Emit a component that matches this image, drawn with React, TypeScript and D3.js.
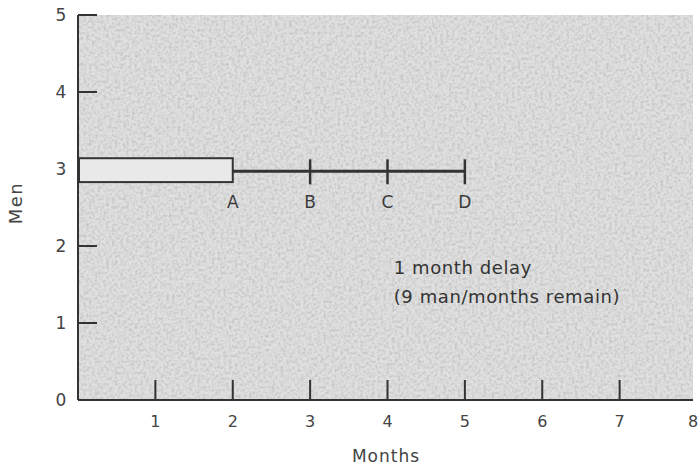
import { useEffect, useRef } from 'react';
import * as d3 from 'd3';

// values
const xTicks = [1, 2, 3, 4, 5, 6, 7, 8];
const yTicks = [0, 1, 2, 3, 4, 5];
const doneBar = { from: 0, to: 2, low: 2.83, high: 3.14 };
const milestones = ['A', 'B', 'C', 'D'];
const milestoneMonths = [2, 3, 4, 5];
const delayLevel = 2.97;
const noteLines = ['1 month delay', '(9 man/months remain)'];

export default function App() {
  const svgRef = useRef<SVGSVGElement>(null);

  useEffect(() => {
    if (!svgRef.current) return;
    const svg = d3.select(svgRef.current);
    svg.selectAll('*').remove();

    const width = 700;
    const height = 465;
    const margin = { top: 15, right: 5, bottom: 65, left: 78 };
    const w = width - margin.left - margin.right;
    const h = height - margin.top - margin.bottom;
    const ink = '#333';
    const font = "'DejaVu Sans', sans-serif";

    // grainy print texture
    const defs = svg.append('defs');
    const f = defs.append('filter').attr('id', 'grain').attr('x', 0).attr('y', 0).attr('width', 1).attr('height', 1);
    f.append('feTurbulence')
      .attr('type', 'fractalNoise')
      .attr('baseFrequency', 0.35)
      .attr('numOctaves', 2)
      .attr('seed', 4)
      .attr('result', 'noise');
    f.append('feColorMatrix')
      .attr('in', 'noise')
      .attr('type', 'matrix')
      .attr('values', '0 0 0 0 0.5  0 0 0 0 0.5  0 0 0 0 0.5  -1.8 0 0 0 1.1')
      .attr('result', 'specks');
    f.append('feComposite').attr('in', 'specks').attr('in2', 'SourceGraphic').attr('operator', 'in').attr('result', 'sp');
    f.append('feMerge').call(m => {
      m.append('feMergeNode').attr('in', 'SourceGraphic');
      m.append('feMergeNode').attr('in', 'sp');
    });

    const x = d3.scaleLinear().domain([0, 8]).range([0, w + 2]);
    const y = d3.scaleLinear().domain([0, 5]).range([h, 0]);

    const g = svg.append('g').attr('transform', `translate(${margin.left},${margin.top})`);

    g.append('rect')
      .attr('width', w - 2)
      .attr('height', h)
      .attr('fill', '#e0e0e0')
      .attr('filter', 'url(#grain)');

    // axes
    g.append('line').attr('x1', 0).attr('x2', 0).attr('y1', 0).attr('y2', h)
      .attr('stroke', ink).attr('stroke-width', 2);
    g.append('line').attr('x1', 0).attr('x2', w - 2).attr('y1', h).attr('y2', h)
      .attr('stroke', ink).attr('stroke-width', 2);

    g.selectAll('.xt')
      .data(xTicks.filter(d => d < 8))
      .enter()
      .append('line')
      .attr('x1', d => x(d)).attr('x2', d => x(d))
      .attr('y1', h).attr('y2', h - 20)
      .attr('stroke', ink).attr('stroke-width', 2);

    g.selectAll('.xl')
      .data(xTicks)
      .enter()
      .append('text')
      .attr('x', d => x(d) - (d === 8 ? 4 : 0))
      .attr('y', h + 27)
      .attr('text-anchor', 'middle')
      .attr('font-family', font)
      .attr('font-size', 16)
      .attr('fill', '#444')
      .text(d => d);

    g.selectAll('.yt')
      .data(yTicks.filter(d => d > 0 && d !== 3))
      .enter()
      .append('line')
      .attr('x1', 0).attr('x2', 19)
      .attr('y1', d => y(d)).attr('y2', d => y(d))
      .attr('stroke', ink).attr('stroke-width', 2);

    g.selectAll('.yl')
      .data(yTicks)
      .enter()
      .append('text')
      .attr('x', -17)
      .attr('y', d => y(d) + 6)
      .attr('text-anchor', 'middle')
      .attr('font-family', font)
      .attr('font-size', 17)
      .attr('fill', '#444')
      .text(d => d);

    // completed work bar
    g.append('rect')
      .attr('x', x(doneBar.from) + 1)
      .attr('y', y(doneBar.high))
      .attr('width', x(doneBar.to) - x(doneBar.from) - 1)
      .attr('height', y(doneBar.low) - y(doneBar.high))
      .attr('fill', '#e9e9e9')
      .attr('stroke', ink)
      .attr('stroke-width', 2);

    // remaining schedule line
    const first = milestoneMonths[0];
    const last = milestoneMonths[milestoneMonths.length - 1];
    g.append('line')
      .attr('x1', x(first)).attr('x2', x(last))
      .attr('y1', y(delayLevel)).attr('y2', y(delayLevel))
      .attr('stroke', ink).attr('stroke-width', 3);

    g.selectAll('.mt')
      .data(milestoneMonths.slice(1))
      .enter()
      .append('line')
      .attr('x1', d => x(d)).attr('x2', d => x(d))
      .attr('y1', y(delayLevel) - 12).attr('y2', y(delayLevel) + 13)
      .attr('stroke', ink).attr('stroke-width', 2.5);

    g.selectAll('.ml')
      .data(milestones)
      .enter()
      .append('text')
      .attr('x', (_d, i) => x(milestoneMonths[i]))
      .attr('y', y(delayLevel) + 37)
      .attr('text-anchor', 'middle')
      .attr('font-family', font)
      .attr('font-size', 17)
      .attr('fill', '#3a3a3a')
      .text(d => d);

    g.selectAll('.note')
      .data(noteLines)
      .enter()
      .append('text')
      .attr('x', x(4.08))
      .attr('y', (_d, i) => 259 + i * 29)
      .attr('font-family', font)
      .attr('font-size', 18)
      .attr('letter-spacing', 0.6)
      .attr('fill', '#333')
      .text(d => d);

    // axis titles
    svg.append('text')
      .attr('x', 386)
      .attr('y', 462)
      .attr('text-anchor', 'middle')
      .attr('font-family', font)
      .attr('font-size', 17)
      .attr('letter-spacing', 1)
      .attr('fill', '#444')
      .text('Months');

    svg.append('text')
      .attr('transform', 'translate(22,203) rotate(-90)')
      .attr('text-anchor', 'middle')
      .attr('font-family', font)
      .attr('font-size', 18)
      .attr('letter-spacing', 1.5)
      .attr('fill', '#444')
      .text('Men');
  }, []);

  return (
    <div style={{ position: 'absolute', left: 0, top: 0 }}>
      <svg ref={svgRef} width={700} height={465} style={{ display: 'block', background: '#fff' }} />
    </div>
  );
}
